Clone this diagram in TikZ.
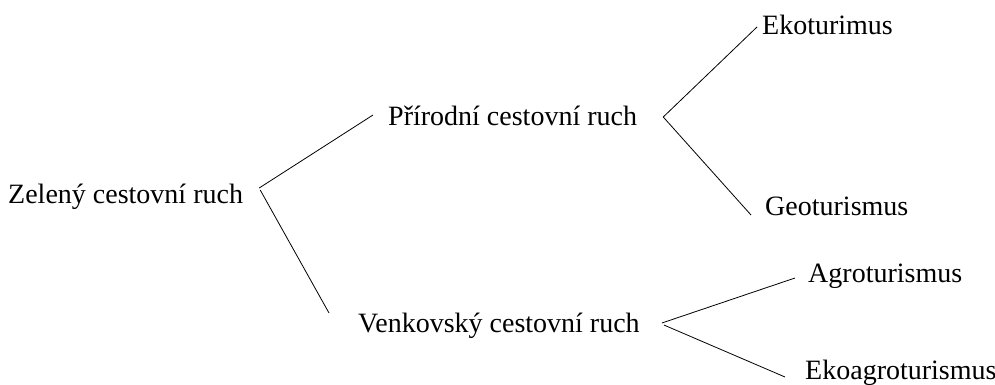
\documentclass[tikz,border=0pt]{standalone}
\usepackage{fontspec}
\setmainfont{Liberation Serif}
\usepackage{tikz}

\begin{document}
\begin{tikzpicture}[x=1pt,y=-1pt,main/.style = {inner sep=0pt, anchor=base west, text height=20pt, text depth=6pt, font=\fontsize{28}{34}\selectfont}, line/.style = {line width=0.8pt}]
\useasboundingbox (0,0) rectangle (995,385);
\node[main] (zel) at (8,203) {Zelený cestovní ruch};
\node[main] (pri) at (388,125) {Přírodní cestovní ruch};
\node[main] (ven) at (358,332) {Venkovský cestovní ruch};
\node[main] (eko) at (762,35) {Ekoturimus};
\node[main] (geo) at (765,215) {Geoturismus};
\node[main] (agro) at (808,282) {Agroturismus};
\node[main] (ekoagro) at (805,379) {Ekoagroturismus};
\draw[line] ([xshift=16pt,yshift=8pt]zel.east) -- ([xshift=-15pt,yshift=3pt]pri.west);
\draw[line] ([xshift=17pt,yshift=6pt]zel.east) -- ([xshift=-29pt,yshift=12pt]ven.west);
\draw[line] ([xshift=26pt,yshift=1pt]pri.east) -- ([xshift=-5pt,yshift=1pt]eko.west);
\draw[line] ([xshift=26pt,yshift=1pt]pri.east) -- ([xshift=-14pt,yshift=-7pt]geo.west);
\draw[line] ([xshift=22pt,yshift=2pt]ven.east) -- ([xshift=-13pt,yshift=-3pt]agro.west);
\draw[line] ([xshift=24pt,yshift=0pt]ven.east) -- ([xshift=-20pt,yshift=-5pt]ekoagro.west);
\end{tikzpicture}
\end{document}
